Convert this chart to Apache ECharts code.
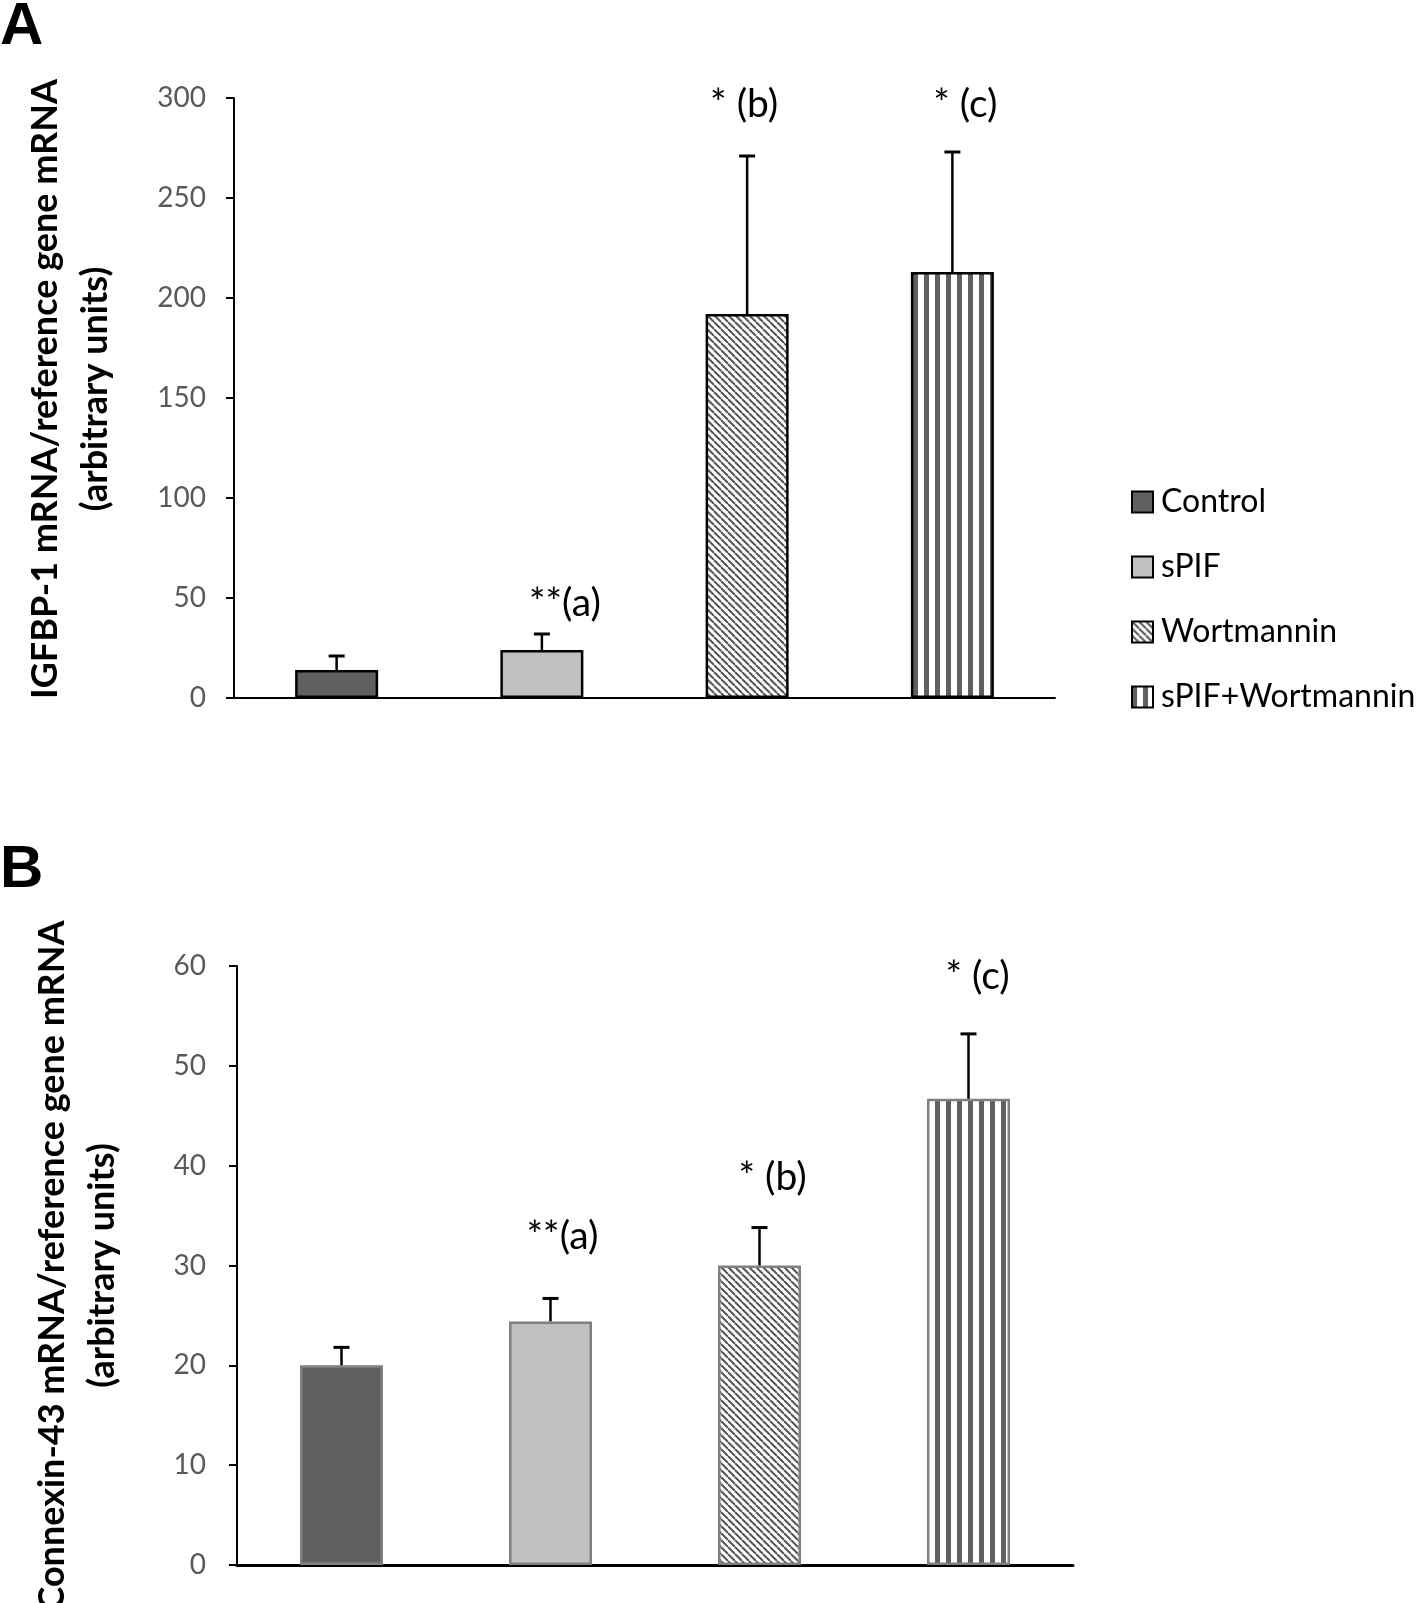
<!DOCTYPE html>
<html>
<head>
<meta charset="utf-8">
<script src="https://cdn.jsdelivr.net/npm/echarts@6/dist/echarts.min.js"></script>
<style>
html,body{margin:0;padding:0;background:#fff;}
#chart{width:1418px;height:1603px;}
</style>
</head>
<body>
<div id="chart"></div>
<script>
// ---- data ----
const categories = ['Control', 'sPIF', 'Wortmannin', 'sPIF+Wortmannin'];
const igfbpMean = [14, 24, 192, 213];
const igfbpErr = [7, 8, 79, 60];
const cxMean = [20, 24.4, 30, 46.7];
const cxErr = [1.8, 2.3, 3.8, 6.5];
const igfbpNotes = ['', '**(a)', '* (b)', '* (c)'];
const igfbpNoteLevel = [null, 47.5, 297, 297];
const cxNotes = ['', '**(a)', '* (b)', '* (c)'];
const cxNoteLevel = [null, 32.9, 38.8, 59];
const igfbpAxis = {min: 0, max: 300, interval: 50};
const cxAxis = {min: 0, max: 60, interval: 10};
const igfbpTitle = 'IGFBP-1 mRNA/reference gene mRNA\n(arbitrary units)';
const cxTitle = 'Connexin-43 mRNA/reference gene mRNA\n(arbitrary units)';

// ---- styles ----
const FONT = 'Lato, "Open Sans", sans-serif';
const noteOffsetA = [0, 23, -3, 13];
const noteOffsetB = [0, 12, 13, 9];

function hatchPattern() {
  const c = document.createElement('canvas');
  c.width = 7; c.height = 7;
  const g = c.getContext('2d');
  g.fillStyle = '#fff'; g.fillRect(0, 0, 7, 7);
  g.strokeStyle = '#555'; g.lineWidth = 2;
  for (const k of [-7, 0, 7]) {
    g.beginPath(); g.moveTo(k, 0); g.lineTo(k + 7, 7); g.stroke();
  }
  return {image: c, repeat: 'repeat'};
}
function stripePattern() {
  const c = document.createElement('canvas');
  c.width = 11; c.height = 4;
  const g = c.getContext('2d');
  g.fillStyle = '#fff'; g.fillRect(0, 0, 11, 4);
  g.fillStyle = '#606060'; g.fillRect(0, 0, 5, 4);
  return {image: c, repeat: 'repeat'};
}
const fills = ['#606060', '#c0c0c0', hatchPattern(), stripePattern()];

const chart = echarts.init(document.getElementById('chart'), null, {renderer: 'canvas'});

function yAxisDef(gridIndex, ax, name, gap, margin, namePad) {
  return {
    type: 'value', gridIndex, min: ax.min, max: ax.max, interval: ax.interval,
    name, nameLocation: 'middle', nameGap: gap, nameRotate: 90,
    nameTextStyle: {fontFamily: FONT, fontWeight: 'bold', fontSize: 36, color: '#000', lineHeight: 50, padding: namePad},
    axisLine: {show: true, lineStyle: {color: '#000', width: 2}},
    axisTick: {show: true, length: 8, lineStyle: {color: '#000', width: 2}},
    axisLabel: {color: '#595959', fontSize: 28, fontFamily: FONT, margin},
    splitLine: {show: false}
  };
}
function xAxisDef(gridIndex, w) {
  return {
    type: 'category', gridIndex, data: categories,
    axisLine: {show: true, lineStyle: {color: '#000', width: w}},
    axisTick: {show: false}, axisLabel: {show: false}, splitLine: {show: false}
  };
}

const series = [];
function addPanel(idx, means, errs, notes, levels, offsets, border, borderW) {
  categories.forEach((c, k) => {
    series.push({
      type: 'bar', name: c, xAxisIndex: idx, yAxisIndex: idx,
      barWidth: 83, barGap: '-100%',
      data: means.map((v, i) => i === k ? v : '-'),
      itemStyle: {color: fills[k], borderColor: border, borderWidth: borderW},
      emphasis: {disabled: true}
    });
  });
  series.push({
    type: 'custom', xAxisIndex: idx, yAxisIndex: idx, z: 5,
    data: means.map((v, i) => [i, v, errs[i]]),
    renderItem: function (params, api) {
      const i = api.value(0), v = api.value(1), e = api.value(2);
      const p0 = api.coord([i, v]);
      const p1 = api.coord([i, v + e]);
      return {type: 'group', children: [
        {type: 'line', shape: {x1: p0[0], y1: p0[1], x2: p1[0], y2: p1[1]}, style: {stroke: '#000', lineWidth: 2.5}},
        {type: 'line', shape: {x1: p1[0] - 8, y1: p1[1], x2: p1[0] + 8, y2: p1[1]}, style: {stroke: '#000', lineWidth: 3}}
      ]};
    }
  });
  series.push({
    type: 'custom', xAxisIndex: idx, yAxisIndex: idx, z: 6,
    data: notes.map((t, i) => [i, levels[i] == null ? 0 : levels[i]]).filter((d, i) => notes[i] !== ''),
    renderItem: function (params, api) {
      const i = api.value(0);
      const p = api.coord([i, api.value(1)]);
      return {type: 'text', x: p[0] + offsets[i], y: p[1],
        style: {text: notes[i], fontSize: 39, fontFamily: FONT, fill: '#000', align: 'center', verticalAlign: 'middle'}};
    }
  });
}
addPanel(0, igfbpMean, igfbpErr, igfbpNotes, igfbpNoteLevel, noteOffsetA, '#000', 2.5);
addPanel(1, cxMean, cxErr, cxNotes, cxNoteLevel, noteOffsetB, '#808080', 2.5);

chart.setOption({
  animation: false,
  backgroundColor: '#fff',
  grid: [
    {left: 234, top: 98, width: 821, height: 600, containLabel: false, outerBoundsMode: 'none'},
    {left: 237, top: 966, width: 836, height: 599, containLabel: false, outerBoundsMode: 'none'}
  ],
  xAxis: [xAxisDef(0, 2), xAxisDef(1, 3)],
  yAxis: [yAxisDef(0, igfbpAxis, igfbpTitle, 114, 28, [0, 0, 0, 18]), yAxisDef(1, cxAxis, cxTitle, 110, 31, 0)],
  legend: {
    orient: 'vertical', left: 1126, top: 481, itemWidth: 21, itemHeight: 21, itemGap: 33,
    icon: 'rect',
    data: categories, selectedMode: false,
    textStyle: {fontFamily: FONT, fontSize: 32, color: '#000', padding: [0, 0, 0, 3]},
    itemStyle: {borderColor: '#000', borderWidth: 2}
  },
  graphic: [
    {type: 'text', left: 0, top: -3, style: {text: 'A', fontSize: 60, fontWeight: 'bold', fontFamily: 'Liberation Sans, Arial, sans-serif', fill: '#000'}},
    {type: 'text', left: 0, top: 840, style: {text: 'B', fontSize: 60, fontWeight: 'bold', fontFamily: 'Liberation Sans, Arial, sans-serif', fill: '#000'}}
  ],
  series
});
</script>
</body>
</html>
